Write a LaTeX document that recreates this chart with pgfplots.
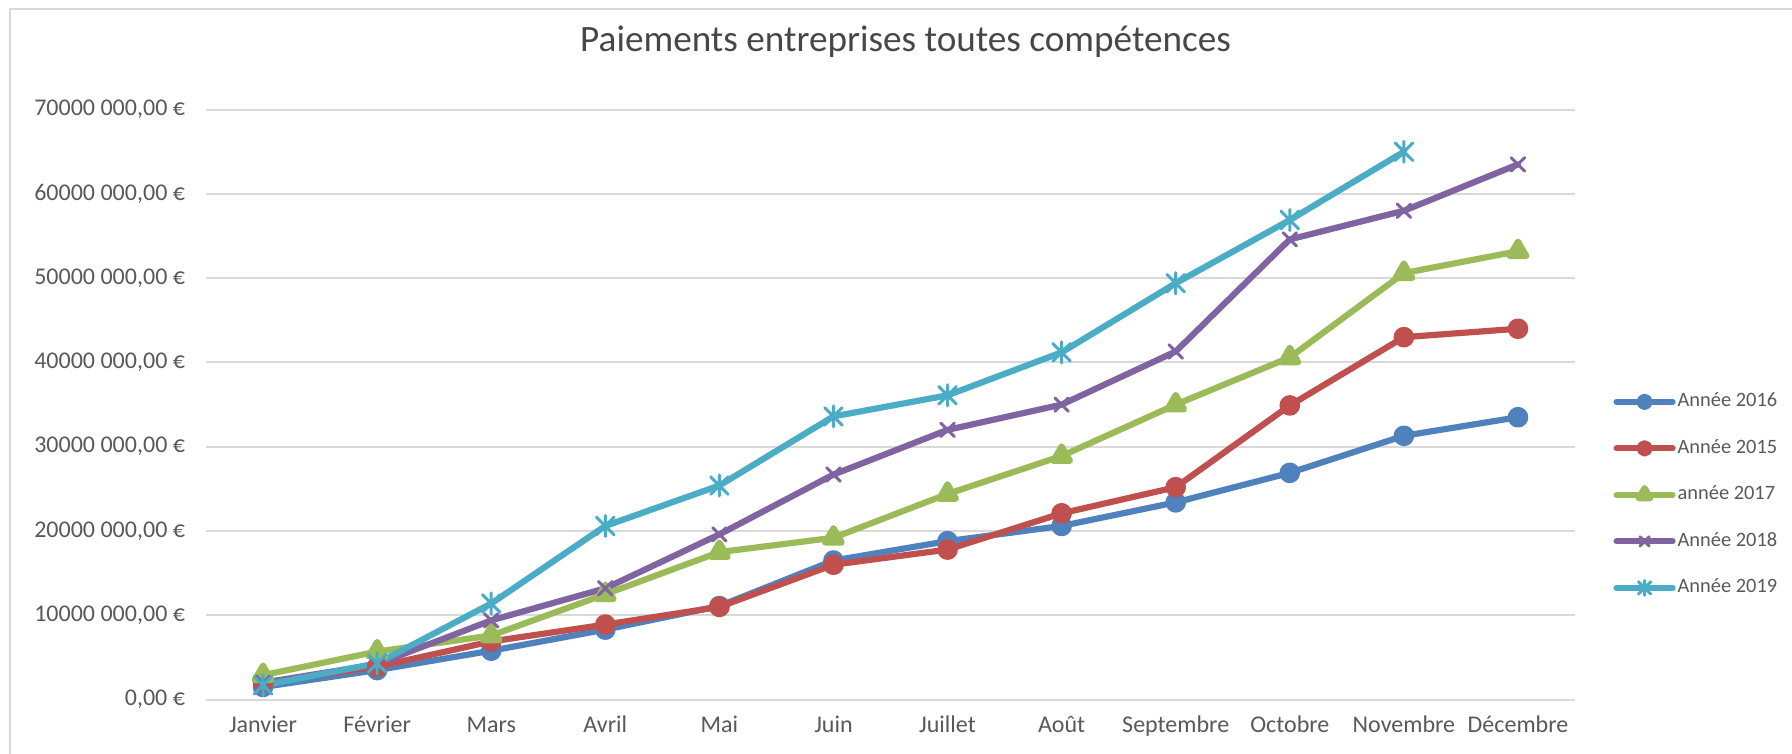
\documentclass[border=0pt]{standalone}
\usepackage{fontspec}
\setmainfont{Carlito}
\usepackage{pgfplots}
\pgfplotsset{compat=1.18}

\definecolor{s16}{HTML}{4F81BD}
\definecolor{s15}{HTML}{C0504D}
\definecolor{s17}{HTML}{9BBB59}
\definecolor{s18}{HTML}{8064A2}
\definecolor{s19}{HTML}{4BACC6}
\definecolor{txt}{HTML}{595959}
\definecolor{gridgray}{HTML}{D9D9D9}

% Excel "star" marker: an x with a vertical bar
\pgfdeclareplotmark{xstar}{%
  \pgfpathmoveto{\pgfqpoint{-\pgfplotmarksize}{-\pgfplotmarksize}}%
  \pgfpathlineto{\pgfqpoint{\pgfplotmarksize}{\pgfplotmarksize}}%
  \pgfpathmoveto{\pgfqpoint{-\pgfplotmarksize}{\pgfplotmarksize}}%
  \pgfpathlineto{\pgfqpoint{\pgfplotmarksize}{-\pgfplotmarksize}}%
  \pgfpathmoveto{\pgfqpoint{0pt}{-1.2\pgfplotmarksize}}%
  \pgfpathlineto{\pgfqpoint{0pt}{1.2\pgfplotmarksize}}%
  \pgfusepathqstroke}

\begin{document}
\begin{tikzpicture}
\path[use as bounding box] (0,0) rectangle (896bp,377bp);
\draw[gridgray, line width=1bp] (5bp,0) -- (5bp,372.5bp) -- (896bp,372.5bp);
\begin{axis}[
    at={(103bp,27.2bp)}, anchor=south west,
    scale only axis, width=684.5bp, height=295bp,
    xmin=-0.5, xmax=11.5, ymin=0, ymax=70,
    xtick={0,...,11},
    xticklabels={Janvier,Février,Mars,Avril,Mai,Juin,Juillet,Août,Septembre,Octobre,Novembre,Décembre},
    ytick={0,10,...,70},
    yticklabels={{0,00 €},{10000 000,00 €},{20000 000,00 €},{30000 000,00 €},{40000 000,00 €},{50000 000,00 €},{60000 000,00 €},{70000 000,00 €}},
    scaled y ticks=false,
    major tick length=0pt,
    axis line style={draw=none},
    xmajorgrids=false, ymajorgrids=true,
    major grid style={gridgray, line width=1bp},
    tick label style={font=\fontsize{12bp}{14bp}\selectfont, text=txt},
    yticklabel style={xshift=-7bp},
    xticklabel style={text height=8bp, text depth=2bp, yshift=-5bp},
    title={Paiements entreprises toutes compétences},
    title style={at={(0.511,1.094)}, anchor=center, font=\fontsize{18.6bp}{22bp}\selectfont, text=txt!80!black},
    legend style={at={(1.0278,0.347)}, anchor=west, draw=none, fill=none, inner sep=0pt,
        font=\fontsize{10.2bp}{12bp}\selectfont, text=txt,
        nodes={inner sep=1bp, text height=7.5bp, text depth=2.5bp},
        row sep=11.25bp, cells={anchor=west}},
    legend image code/.code={\draw[mark repeat=2, mark phase=2, #1, every mark/.append style={scale=0.7}]
        plot coordinates {(0bp,0bp) (14bp,0bp) (28bp,0bp)};},
    every axis plot/.append style={line width=3.1bp, line join=round, line cap=round, mark options={solid}},
]
\addplot[s16, mark=*, mark size=3.6bp] coordinates {
    (0,1.5) (1,3.5) (2,5.8) (3,8.3) (4,11.1) (5,16.5)
    (6,18.8) (7,20.6) (8,23.4) (9,26.9) (10,31.3) (11,33.5)};
\addplot[s15, mark=*, mark size=3.6bp] coordinates {
    (0,2.0) (1,3.9) (2,6.9) (3,8.9) (4,11.0) (5,16.0)
    (6,17.8) (7,22.1) (8,25.2) (9,34.9) (10,43.0) (11,44.0)};
\addplot[s17, mark=triangle*, mark size=4.8bp] coordinates {
    (0,2.9) (1,5.7) (2,7.6) (3,12.5) (4,17.5) (5,19.2)
    (6,24.4) (7,28.9) (8,35.0) (9,40.6) (10,50.6) (11,53.2)};
\addplot[s18, mark=x, mark size=4.8bp, mark options={line width=1.5bp}] coordinates {
    (0,2.0) (1,4.2) (2,9.4) (3,13.2) (4,19.6) (5,26.7)
    (6,32.0) (7,35.0) (8,41.3) (9,54.6) (10,58.0) (11,63.5)};
\addplot[s19, mark=xstar, mark size=4.4bp, mark options={line width=1.5bp}] coordinates {
    (0,1.7) (1,4.3) (2,11.4) (3,20.6) (4,25.4) (5,33.6)
    (6,36.1) (7,41.2) (8,49.4) (9,56.9) (10,65.0)};
\legend{Année 2016, Année 2015, année 2017, Année 2018, Année 2019}
\end{axis}
\end{tikzpicture}
\end{document}
